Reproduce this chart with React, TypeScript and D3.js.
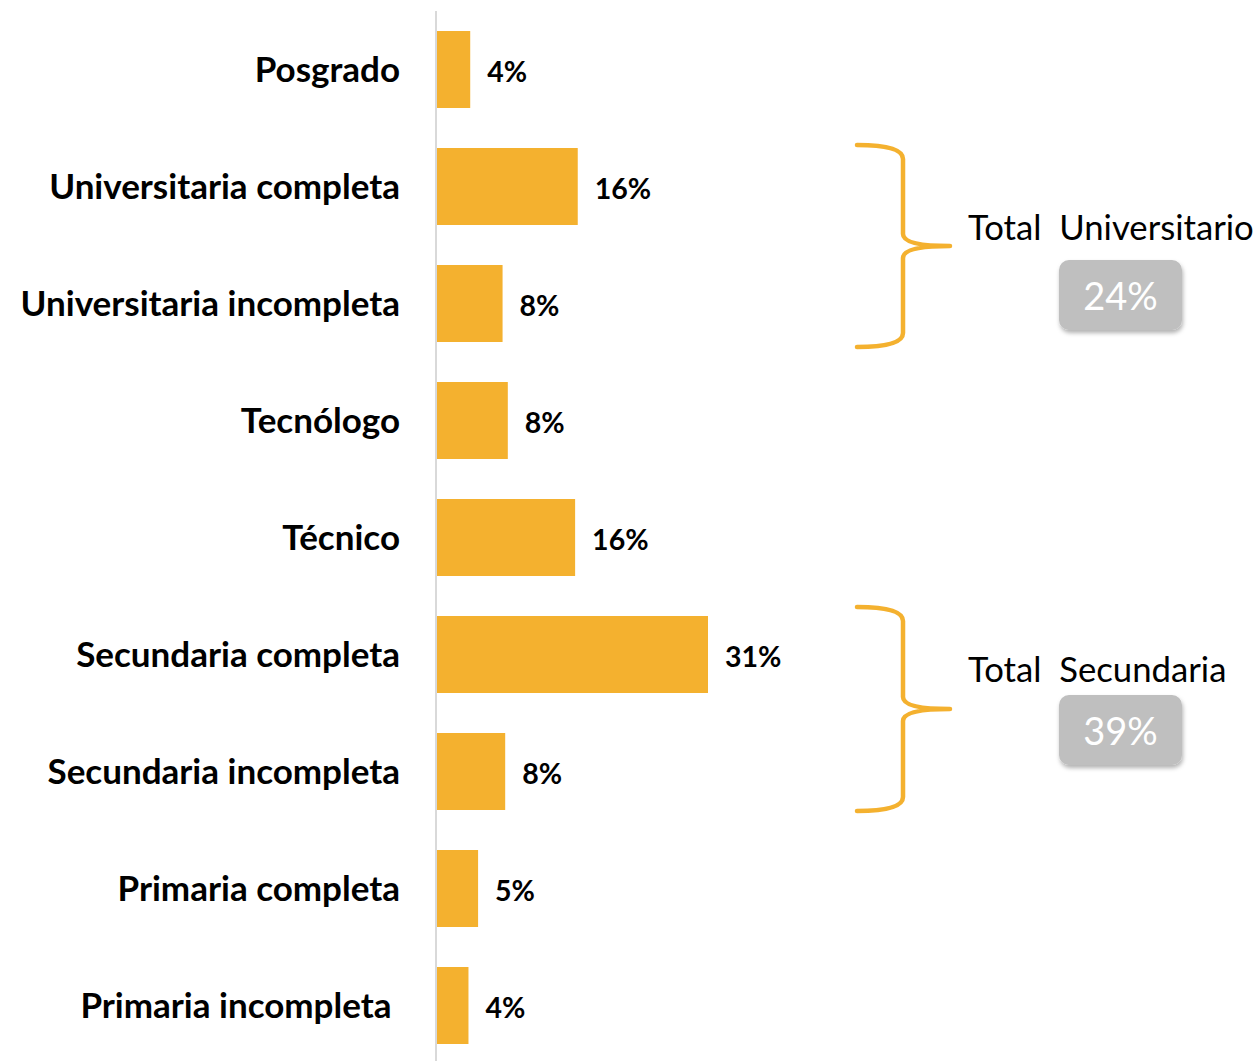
import React from 'react';
import * as d3 from 'd3';

const categories = [
  'Posgrado',
  'Universitaria completa',
  'Universitaria incompleta',
  'Tecnólogo',
  'Técnico',
  'Secundaria completa',
  'Secundaria incompleta',
  'Primaria completa',
  'Primaria incompleta ',
];
const values = [3.8, 16.1, 7.5, 8.1, 15.8, 31.0, 7.8, 4.7, 3.6];
const valueLabels = ['4%', '16%', '8%', '8%', '16%', '31%', '8%', '5%', '4%'];

const groupTitles = ['Total  Universitario', 'Total  Secundaria'];
const groupTotals = ['24%', '39%'];
const groupFirst = ['Universitaria completa', 'Secundaria completa'];
const groupLast = ['Universitaria incompleta', 'Secundaria incompleta'];

// layout (pixels)
const braceTopPad = [3, 9];
const braceBottomPad = [5, 1];
const titleBaseline = [240, 682];
const boxTop = [260, 695];

const W = 1260;
const H = 1061;
const BAR = '#F4B12F';
const FONT = 'Lato, "Open Sans", sans-serif';

export default function App() {
  const x = d3.scaleLinear().domain([0, 31]).range([437, 708]);
  const y = d3
    .scaleBand<string>()
    .domain(categories)
    .range([11, 1064])
    .paddingInner(0.342)
    .paddingOuter(0.171);
  const bw = y.bandwidth();

  const brace = (y0: number, y1: number) => {
    const mid = (y0 + y1) / 2;
    const p = d3.path();
    p.moveTo(857, y0);
    p.quadraticCurveTo(903, y0, 903, y0 + 14);
    p.lineTo(903, mid - 12);
    p.quadraticCurveTo(903, mid, 950, mid);
    p.moveTo(950, mid);
    p.quadraticCurveTo(903, mid, 903, mid + 12);
    p.lineTo(903, y1 - 14);
    p.quadraticCurveTo(903, y1, 857, y1);
    return p.toString();
  };

  return (
    <svg
      width={W}
      height={H}
      style={{ position: 'absolute', left: 0, top: 0, background: '#fff' }}
    >
      <defs>
        <filter id="sh" x="-20%" y="-20%" width="140%" height="150%">
          <feDropShadow dx="1" dy="3" stdDeviation="2" floodColor="#000" floodOpacity="0.3" />
        </filter>
      </defs>
      <line x1={436} x2={436} y1={11} y2={H} stroke="#D9D9D9" strokeWidth={2} />
      {categories.map((c, i) => (
        <g key={c}>
          <rect x={x(0)} y={y(c)} width={x(values[i]) - x(0)} height={bw} fill={BAR} />
          <text
            x={400}
            y={(y(c) as number) + bw / 2 - 2}
            textAnchor="end"
            dominantBaseline="central"
            fontFamily={FONT}
            fontWeight="bold"
            fontSize={35}
            fill="#000"
            style={{ whiteSpace: 'pre' }}
          >
            {c}
          </text>
          <text
            x={x(values[i]) + 17}
            y={(y(c) as number) + bw / 2 + 1}
            dominantBaseline="central"
            fontFamily={FONT}
            fontWeight="bold"
            fontSize={28.5}
            fill="#000"
          >
            {valueLabels[i]}
          </text>
        </g>
      ))}
      {groupTitles.map((t, g) => {
        const y0 = (y(groupFirst[g]) as number) - braceTopPad[g];
        const y1 = (y(groupLast[g]) as number) + bw + braceBottomPad[g];
        return (
          <g key={t}>
            <path d={brace(y0, y1)} fill="none" stroke={BAR} strokeWidth={4.5} strokeLinecap="round" />
            <text
              x={968}
              y={titleBaseline[g]}
              fontFamily={FONT}
              fontSize={34.7}
              fill="#000"
              style={{ whiteSpace: 'pre' }}
            >
              {t}
            </text>
            <rect
              x={1059}
              y={boxTop[g]}
              width={123}
              height={70}
              rx={10}
              fill="#BFBFBF"
              filter="url(#sh)"
            />
            <text
              x={1120.5}
              y={boxTop[g] + 35}
              textAnchor="middle"
              dominantBaseline="central"
              fontFamily={FONT}
              fontSize={38}
              fill="#fff"
            >
              {groupTotals[g]}
            </text>
          </g>
        );
      })}
    </svg>
  );
}
